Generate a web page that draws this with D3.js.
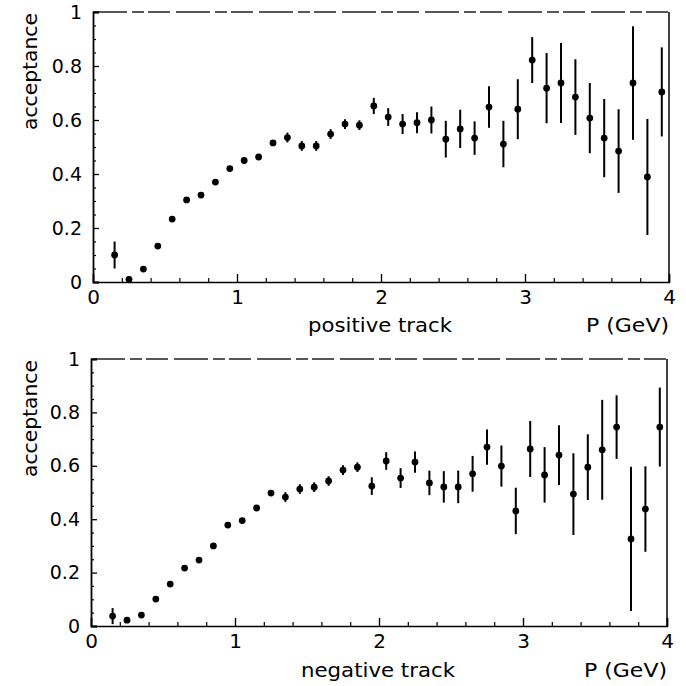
<!DOCTYPE html>
<html>
<head>
<meta charset="utf-8">
<script src="https://cdn.jsdelivr.net/npm/d3@7"></script>
<style>
  html, body { margin: 0; padding: 0; background: #fff; }
  svg { display: block; }
  text { font-family: "DejaVu Sans", sans-serif; fill: #000; }
</style>
</head>
<body>
<svg id="chart" width="686" height="686"></svg>
<script>
// ---------------- DATA ----------------
const momentum = [0.15,0.25,0.35,0.45,0.55,0.65,0.75,0.85,0.95,1.05,
                  1.15,1.25,1.35,1.45,1.55,1.65,1.75,1.85,1.95,2.05,
                  2.15,2.25,2.35,2.45,2.55,2.65,2.75,2.85,2.95,3.05,
                  3.15,3.25,3.35,3.45,3.55,3.65,3.75,3.85,3.95];

const positiveAcc = [0.100,0.010,0.048,0.133,0.233,0.304,0.322,0.370,0.420,0.450,
                     0.463,0.515,0.535,0.504,0.504,0.548,0.585,0.581,0.652,0.611,
                     0.585,0.590,0.600,0.529,0.567,0.533,0.648,0.511,0.640,0.822,
                     0.718,0.737,0.685,0.607,0.533,0.485,0.737,0.389,0.704];
const positiveErr = [0.050,0.008,0.008,0.008,0.008,0.008,0.008,0.008,0.008,0.008,
                     0.008,0.010,0.018,0.018,0.018,0.018,0.018,0.018,0.030,0.033,
                     0.037,0.039,0.050,0.068,0.071,0.062,0.077,0.086,0.111,0.085,
                     0.130,0.148,0.140,0.130,0.145,0.155,0.210,0.215,0.165];

const negativeAcc = [0.037,0.022,0.041,0.101,0.157,0.217,0.247,0.300,0.378,0.395,
                     0.442,0.498,0.483,0.513,0.520,0.543,0.584,0.595,0.524,0.618,
                     0.554,0.614,0.536,0.521,0.521,0.570,0.670,0.599,0.431,0.663,
                     0.566,0.640,0.494,0.595,0.660,0.745,0.326,0.438,0.745];
const negativeErr = [0.030,0.008,0.008,0.008,0.008,0.008,0.008,0.008,0.008,0.008,
                     0.008,0.010,0.018,0.018,0.018,0.018,0.018,0.018,0.033,0.033,
                     0.037,0.040,0.046,0.059,0.061,0.067,0.066,0.077,0.087,0.105,
                     0.104,0.112,0.153,0.123,0.187,0.119,0.270,0.160,0.148];

const xMajorTicks = [0,1,2,3,4];
const xMinorTicks = [0.2,0.4,0.6,0.8,1.2,1.4,1.6,1.8,2.2,2.4,2.6,2.8,3.2,3.4,3.6,3.8];
const yMajorTicks = [0,0.2,0.4,0.6,0.8,1];
const yTickLabels = ["0","0.2","0.4","0.6","0.8","1"];
const yMinorTicks = [0.05,0.1,0.15,0.25,0.3,0.35,0.45,0.5,0.55,0.65,0.7,0.75,0.85,0.9,0.95];

const panels = [
  { values: positiveAcc, errors: positiveErr, label: "positive track",
    x0: 93, x1: 669, yTop: 12, yBot: 282, labelBase: 332, labelW: 144, labelCx: 380 },
  { values: negativeAcc, errors: negativeErr, label: "negative track",
    x0: 91, x1: 667, yTop: 359, yBot: 626, labelBase: 677, labelW: 154, labelCx: 378 }
];

// ---------------- DRAW ----------------
const svg = d3.select("#chart");

panels.forEach(p => {
  const x = d3.scaleLinear().domain([0, 4]).range([p.x0, p.x1]);
  const y = d3.scaleLinear().domain([0, 1]).range([p.yBot, p.yTop]);
  const g = svg.append("g");

  // frame: top and right border
  g.append("line")
    .attr("x1", x(0)).attr("x2", x(4)).attr("y1", y(1)).attr("y2", y(1))
    .attr("stroke", "#222").attr("stroke-width", 1.3)
    .attr("stroke-dasharray", "34,5,12,4,22,6");
  g.append("line")
    .attr("x1", x(4)).attr("x2", x(4)).attr("y1", y(1)).attr("y2", y(0))
    .attr("stroke", "#000").attr("stroke-width", 1.5);

  // y axis (major with labels)
  const yAxis = g.append("g").attr("transform", `translate(${x(0)},0)`)
    .call(d3.axisLeft(y).tickValues(yMajorTicks)
      .tickFormat((d, i) => yTickLabels[i]).tickSize(-6).tickPadding(11));
  yAxis.select(".domain").attr("stroke-width", 1.8);
  yAxis.selectAll(".tick line").attr("stroke-width", 1.3);
  yAxis.selectAll(".tick text").attr("font-size", 19).attr("font-family", "DejaVu Sans");

  const yMinor = g.append("g").attr("transform", `translate(${x(0)},0)`)
    .call(d3.axisLeft(y).tickValues(yMinorTicks).tickFormat("").tickSize(-3));
  yMinor.select(".domain").remove();
  yMinor.selectAll(".tick line").attr("stroke-width", 1.2);

  // x axis (major with labels)
  const xAxis = g.append("g").attr("transform", `translate(0,${y(0)})`)
    .call(d3.axisBottom(x).tickValues(xMajorTicks).tickFormat(d3.format("d"))
      .tickSize(-8).tickPadding(8));
  xAxis.select(".domain").attr("stroke-width", 1.5);
  xAxis.selectAll(".tick line").attr("stroke-width", 1.4);
  xAxis.selectAll(".tick text").attr("font-size", 20).attr("font-family", "DejaVu Sans");

  const xMinor = g.append("g").attr("transform", `translate(0,${y(0)})`)
    .call(d3.axisBottom(x).tickValues(xMinorTicks).tickFormat("").tickSize(-4));
  xMinor.select(".domain").remove();
  xMinor.selectAll(".tick line").attr("stroke-width", 1.2);

  // axis titles
  g.append("text")
    .attr("transform", `translate(37,${p.yTop + 1}) rotate(-90)`)
    .attr("text-anchor", "end").attr("font-size", 19)
    .attr("textLength", 117).attr("lengthAdjust", "spacingAndGlyphs")
    .text("acceptance");

  g.append("text")
    .attr("x", p.labelCx - p.labelW / 2).attr("y", p.labelBase)
    .attr("font-size", 19)
    .attr("textLength", p.labelW).attr("lengthAdjust", "spacingAndGlyphs")
    .text(p.label);

  g.append("text")
    .attr("x", x(4) - 83).attr("y", p.labelBase)
    .attr("font-size", 19)
    .attr("textLength", 83).attr("lengthAdjust", "spacingAndGlyphs")
    .text("P (GeV)");

  // data
  const data = momentum.map((m, i) => ({ m, v: p.values[i], e: p.errors[i] }));
  g.append("g").selectAll("line").data(data).join("line")
    .attr("x1", d => x(d.m)).attr("x2", d => x(d.m))
    .attr("y1", d => y(Math.max(0, d.v - d.e))).attr("y2", d => y(Math.min(1, d.v + d.e)))
    .attr("stroke", "#000").attr("stroke-width", 2);
  g.append("g").selectAll("circle").data(data).join("circle")
    .attr("cx", d => x(d.m)).attr("cy", d => y(d.v)).attr("r", 3.4)
    .attr("fill", "#000");
});
</script>
</body>
</html>
